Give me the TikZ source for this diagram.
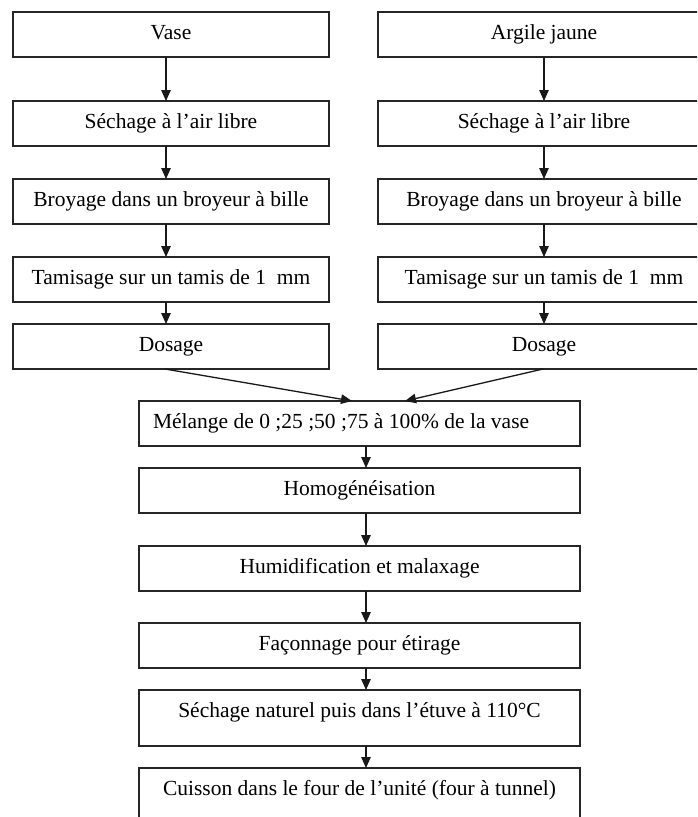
\documentclass[tikz,border=0pt]{standalone}
\usepackage{fontspec}
\setmainfont{Liberation Serif}
\usetikzlibrary{arrows.meta}
\begin{document}
\begin{tikzpicture}[x=1pt,y=-1pt,
  box/.style={draw=black!85, line width=1.3pt, inner xsep=0pt, inner ysep=0pt,
    text height=27.5pt, text depth=17.5pt, font=\fontsize{21.5}{24}\selectfont,
    anchor=north, outer sep=0pt},
  lbox/.style={box, minimum width=316pt},
  rbox/.style={box, minimum width=332pt},
  cbox/.style={box, minimum width=441pt},
  arr/.style={-{Triangle[length=11pt,width=9.5pt]}, line width=1.3pt, draw=black!90}]
\clip (0,0) rectangle (697,817);
\fill[white] (0,0) rectangle (697,817);
% left column
\node[lbox] (l1) at (171,12) {Vase};
\node[lbox] (l2) at (171,101) {Séchage à l’air libre};
\node[lbox] (l3) at (171,179) {Broyage dans un broyeur à bille};
\node[lbox] (l4) at (171,257) {Tamisage sur un tamis de 1\ \ mm};
\node[lbox] (l5) at (171,324) {Dosage};
% right column
\node[rbox] (r1) at (544,12) {Argile jaune};
\node[rbox] (r2) at (544,101) {Séchage à l’air libre};
\node[rbox] (r3) at (544,179) {Broyage dans un broyeur à bille};
\node[rbox] (r4) at (544,257) {Tamisage sur un tamis de 1\ \ mm};
\node[rbox] (r5) at (544,324) {Dosage};
% central column
\node[cbox, inner xsep=14pt] (m) at (359.5,401) {\makebox[413pt][l]{Mélange de 0 ;25 ;50 ;75 à 100\% de la vase}};
\node[cbox] (h) at (359.5,468) {Homogénéisation};
\node[cbox] (u) at (359.5,546) {Humidification et malaxage};
\node[cbox] (f) at (359.5,623) {Façonnage pour étirage};
\node[cbox, text depth=28.5pt] (s) at (359.5,690) {Séchage naturel puis dans l’étuve à 110°C};
\node[cbox, text depth=40pt] (c) at (359.5,768) {Cuisson dans le four de l’unité (four à tunnel)};
% arrows left
\draw[arr] ([xshift=-5pt]l1.south) -- ([xshift=-5pt]l2.north);
\draw[arr] ([xshift=-5pt]l2.south) -- ([xshift=-5pt]l3.north);
\draw[arr] ([xshift=-5pt]l3.south) -- ([xshift=-5pt]l4.north);
\draw[arr] ([xshift=-5pt]l4.south) -- ([xshift=-5pt]l5.north);
% arrows right
\draw[arr] (r1.south) -- (r2.north);
\draw[arr] (r2.south) -- (r3.north);
\draw[arr] (r3.south) -- (r4.north);
\draw[arr] (r4.south) -- (r5.north);
% converging
\draw[arr] ([xshift=-6pt]l5.south) -- ([xshift=-7.5pt]m.north);
\draw[arr] ([xshift=-1pt]r5.south) -- ([xshift=45.5pt]m.north);
% central arrows
\draw[arr] ([xshift=6.5pt]m.south) -- ([xshift=6.5pt]h.north);
\draw[arr] ([xshift=6.5pt]h.south) -- ([xshift=6.5pt]u.north);
\draw[arr] ([xshift=6.5pt]u.south) -- ([xshift=6.5pt]f.north);
\draw[arr] ([xshift=6.5pt]f.south) -- ([xshift=6.5pt]s.north);
\draw[arr] ([xshift=6.5pt]s.south) -- ([xshift=6.5pt]c.north);
\end{tikzpicture}
\end{document}
